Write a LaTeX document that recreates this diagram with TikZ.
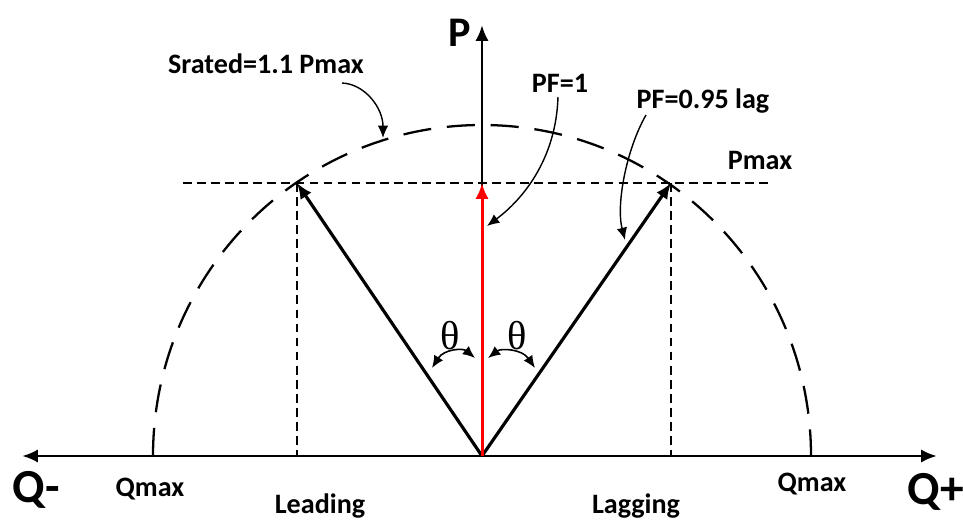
\documentclass[tikz,border=0pt]{standalone}
\usepackage{fontspec}
\setmainfont{Carlito}
\newfontfamily\greekfont{Liberation Serif}
\usetikzlibrary{arrows.meta}
\tikzset{
  >={Latex[length=9pt, width=7.5pt]},
  every picture/.style={line join=round},
  axis/.style={->, line width=1.6pt},
  vec/.style={->, line width=1.8pt},
  unity/.style={->, red, line width=1.7pt},
  guide/.style={dash pattern=on 5pt off 3pt, line width=1.1pt},
  rated/.style={dash pattern=on 16pt off 9pt, line width=1.3pt},
  callout/.style={-{Latex[length=7pt, width=6pt]}, line width=0.8pt},
  angarr/.style={{Latex[length=7pt, width=6pt]}-{Latex[length=7pt, width=6pt]}, line width=0.9pt},
  lab/.style={font=\bfseries\fontsize{16}{19}\selectfont, inner sep=1pt},
  biglab/.style={font=\bfseries\fontsize{27}{30}\selectfont, inner sep=1pt},
  anglab/.style={font=\greekfont\fontsize{23}{26}\selectfont, inner sep=0pt},
}

\begin{document}
\begin{tikzpicture}[x=0.02cm, y=-0.02cm]
  \useasboundingbox (0,0) rectangle (963,520);
  % points (pixel grid, y down)
  \coordinate (O) at (482,456);
  \coordinate (Ptip) at (482,25);
  \coordinate (Qneg) at (22,456);
  \coordinate (Qpos) at (937,456);
  \coordinate (Lt) at (297,183);
  \coordinate (Rt) at (671,183);
  \coordinate (Mt) at (482,183);
  \coordinate (Lf) at (297,456);
  \coordinate (Rf) at (671,456);
  \coordinate (Pl) at (183,183);
  \coordinate (Pr) at (773,183);
  \coordinate (Cl) at (153,456);
  % rated circle and Pmax guides
  \draw[rated] (Cl) arc[start angle=180, end angle=360, x radius=329, y radius=331];
  \draw[guide] (Pl) -- (Pr);
  \draw[guide] (Lt) -- (Lf);
  \draw[guide] (Rt) -- (Rf);
  % axes
  \draw[axis] (O) -- (Qneg);
  \draw[axis] (O) -- (Qpos);
  \draw[axis] (O) -- (Ptip);
  % power vectors
  \draw[vec] (O) -- (Lt);
  \draw[vec] (O) -- (Rt);
  \draw[unity] (O) -- (Mt);
  % labels
  \node[biglab, font=\bfseries\fontsize{24}{28}\selectfont] (P) at (460,33) {P};
  \node[biglab] (Qn) at (36,490) {Q-};
  \node[biglab] (Qp) at (936,492) {Q+};
  \node[lab] (srated) at (266,64) {Srated=1.1 Pmax};
  \node[lab] (pf1) at (560,83) {PF=1};
  \node[lab] (pflag) at (703,101) {PF=0.95 lag};
  \node[lab] (pmax) at (760,160) {Pmax};
  \node[lab] (qmaxl) at (150,489) {Qmax};
  \node[lab] (qmaxr) at (812,484) {Qmax};
  \node[lab] (lead) at (320,506) {Leading};
  \node[lab] (lag) at (636,506) {Lagging};
  \node[anglab] (thl) at (450,336) {θ};
  \node[anglab] (thr) at (517,336) {θ};
  % callouts
  \coordinate (sr1) at (342,83);
  \coordinate (sr2) at (383,138);
  \coordinate (pf1a) at (558,97);
  \coordinate (pf1b) at (487,226);
  \coordinate (lag1) at (646,115);
  \coordinate (lag2) at (625,240);
  \draw[callout] (sr1) .. controls (365,84) and (383,108) .. (sr2);
  \draw[callout] (pf1a) .. controls (556,160) and (522,200) .. (pf1b);
  \draw[callout] (lag1) .. controls (626,150) and (616,205) .. (lag2);
  % angle marks
  \coordinate (al1) at (432,368);
  \coordinate (al2) at (475,358);
  \coordinate (ar1) at (488,358);
  \coordinate (ar2) at (535,368);
  \draw[angarr] (al1) .. controls (444,349) and (463,348) .. (al2);
  \draw[angarr] (ar1) .. controls (501,348) and (522,349) .. (ar2);
\end{tikzpicture}
\end{document}
